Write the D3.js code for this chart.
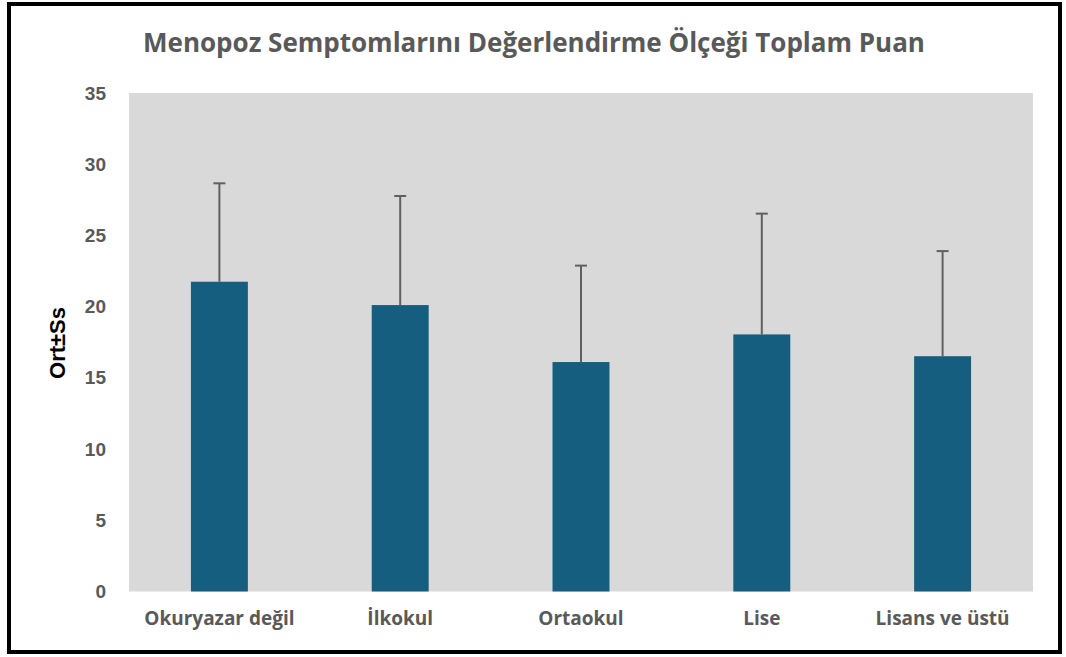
<!DOCTYPE html>
<html>
<head>
<meta charset="utf-8">
<script src="https://cdn.jsdelivr.net/npm/d3@7"></script>
<style>
	body { margin: 0; background: #fff; }
</style>
</head>
<body>
<div id="chart"></div>
<script>
var categories = ["Okuryazar değil", "İlkokul", "Ortaokul", "Lise", "Lisans ve üstü"];
var means = [21.75, 20.11, 16.11, 18.05, 16.52];
var sds = [6.91, 7.66, 6.77, 8.48, 7.38];
var yTicks = [0, 5, 10, 15, 20, 25, 30, 35];
var title = "Menopoz Semptomlarını Değerlendirme Ölçeği Toplam Puan";

var width = 1066;
var height = 657;
var plot = {left: 129, right: 1033, top: 93, bottom: 591.5};

var svg = d3.select('#chart')
	.append('svg')
	.attr('width', width)
	.attr('height', height);

// outer frame
svg.append('rect')
	.attr('x', 9).attr('y', 4)
	.attr('width', 1051).attr('height', 648)
	.attr('fill', 'none')
	.attr('stroke', '#000')
	.attr('stroke-width', 4);

var x = d3.scaleBand()
	.domain(categories)
	.range([plot.left, plot.right])
	.paddingInner(0.685)
	.paddingOuter(0.3425);

var y = d3.scaleLinear()
	.domain([0, 35])
	.range([plot.bottom, plot.top]);

svg.append('rect')
	.attr('x', plot.left).attr('y', plot.top)
	.attr('width', plot.right - plot.left)
	.attr('height', plot.bottom - plot.top)
	.attr('fill', '#d9d9d9');

var data = categories.map(function(c, i) {
	return {cat: c, mean: means[i], sd: sds[i]};
});

svg.selectAll('.bar')
	.data(data)
	.enter()
	.append('rect')
	.attr('class', 'bar')
	.attr('x', function(d) { return x(d.cat); })
	.attr('width', x.bandwidth())
	.attr('y', function(d) { return y(d.mean); })
	.attr('height', function(d) { return y(0) - y(d.mean); })
	.attr('fill', '#165e80');

// error bars (upper only)
var err = svg.selectAll('.err')
	.data(data)
	.enter()
	.append('g')
	.attr('class', 'err')
	.attr('stroke', '#606060')
	.attr('stroke-width', 2);

err.append('line')
	.attr('x1', function(d) { return x(d.cat) + x.bandwidth() / 2; })
	.attr('x2', function(d) { return x(d.cat) + x.bandwidth() / 2; })
	.attr('y1', function(d) { return y(d.mean); })
	.attr('y2', function(d) { return y(d.mean + d.sd); });

err.append('line')
	.attr('x1', function(d) { return x(d.cat) + x.bandwidth() / 2 - 6; })
	.attr('x2', function(d) { return x(d.cat) + x.bandwidth() / 2 + 6; })
	.attr('y1', function(d) { return y(d.mean + d.sd); })
	.attr('y2', function(d) { return y(d.mean + d.sd); });

// y axis
var yAxis = svg.append('g')
	.attr('transform', 'translate(' + plot.left + ',0)')
	.call(d3.axisLeft(y).tickValues(yTicks).tickSize(0).tickPadding(23));
yAxis.select('.domain').remove();
yAxis.selectAll('text')
	.attr('fill', '#595959')
	.style('font-family', '"Liberation Sans", Arial, sans-serif')
	.style('font-weight', 'bold')
	.style('font-size', '19px');

// x axis
var xAxis = svg.append('g')
	.attr('transform', 'translate(0,' + plot.bottom + ')')
	.call(d3.axisBottom(x).tickSize(0).tickPadding(20));
xAxis.select('.domain').remove();
xAxis.selectAll('text')
	.attr('fill', '#595959')
	.style('font-family', '"Open Sans", sans-serif')
	.style('font-weight', 'bold')
	.style('font-size', '19px');

svg.append('text')
	.attr('transform', 'translate(65,343) rotate(-90)')
	.attr('text-anchor', 'middle')
	.style('font-family', '"Liberation Sans", Arial, sans-serif')
	.style('font-weight', 'bold')
	.style('font-size', '22px')
	.attr('fill', '#000')
	.text('Ort±Ss');

svg.append('text')
	.attr('x', 534)
	.attr('y', 52)
	.attr('text-anchor', 'middle')
	.style('font-family', '"Open Sans", sans-serif')
	.style('font-weight', 'bold')
	.style('font-size', '26px')
	.attr('fill', '#595959')
	.text(title);
</script>
</body>
</html>
